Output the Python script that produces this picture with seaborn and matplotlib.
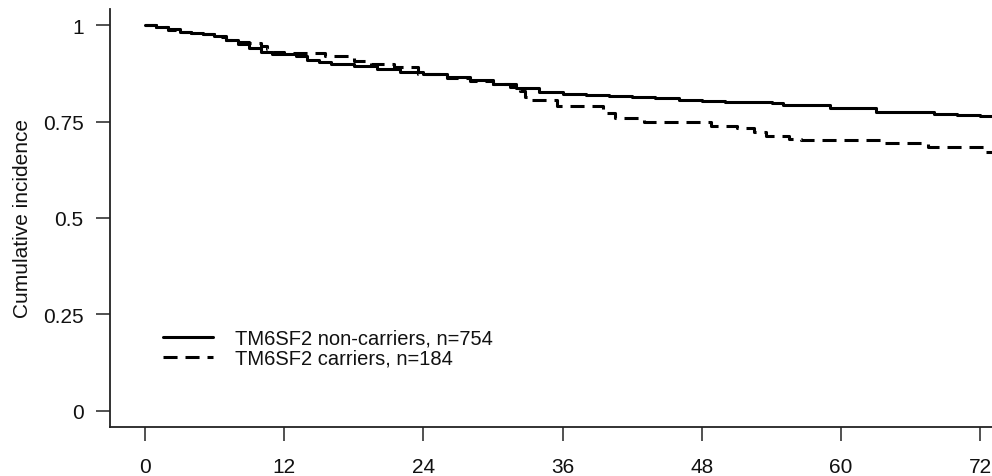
import matplotlib
matplotlib.use("Agg")
import matplotlib.pyplot as plt
import seaborn as sns
import pandas as pd

# --- data (months, cumulative probability) ---
noncarrier_time = [0, 1, 2, 3, 4, 5, 6, 7, 8, 9, 10, 11, 12, 13, 14, 15, 16, 18, 20, 22,
                   24, 26, 28, 30, 32, 34, 36, 38, 40, 42, 44, 46, 48, 50, 52, 54, 55,
                   58, 59, 62, 63, 66, 68, 70, 72, 73]
noncarrier_value = [1.0, 0.995, 0.99, 0.983, 0.979, 0.977, 0.972, 0.962, 0.952, 0.940,
                    0.930, 0.926, 0.925, 0.920, 0.910, 0.903, 0.899, 0.893, 0.886, 0.879,
                    0.873, 0.866, 0.858, 0.848, 0.836, 0.826, 0.822, 0.819, 0.816, 0.813,
                    0.810, 0.806, 0.804, 0.801, 0.800, 0.799, 0.793, 0.793, 0.785, 0.784,
                    0.775, 0.774, 0.769, 0.767, 0.764, 0.764]

carrier_time = [0, 1, 2, 3, 4, 5, 6, 7, 7.5, 9, 10, 10.5, 11, 12, 15.5, 18, 19.5, 21.5,
                23.5, 26, 28, 30, 31.5, 32.3, 32.8, 33.3, 35.5, 39.5, 40.5, 43, 48.8, 51,
                52.5, 53.5, 55.5, 56.5, 63.5, 67.5, 72.4, 73]
carrier_value = [1.0, 0.995, 0.988, 0.983, 0.979, 0.976, 0.970, 0.962, 0.956, 0.953,
                 0.946, 0.938, 0.930, 0.927, 0.919, 0.907, 0.899, 0.891, 0.874, 0.863,
                 0.855, 0.847, 0.840, 0.829, 0.813, 0.806, 0.790, 0.772, 0.759, 0.749,
                 0.738, 0.733, 0.723, 0.712, 0.705, 0.702, 0.694, 0.684, 0.671, 0.671]

group_labels = ["TM6SF2 non-carriers, n=754", "TM6SF2 carriers, n=184"]
x_ticks = [0, 12, 24, 36, 48, 60, 72]
y_ticks = [0, 0.25, 0.5, 0.75, 1]
y_ticklabels = ["0", "0.25", "0.5", "0.75", "1"]
y_label = "Cumulative incidence"

df = pd.concat([
    pd.DataFrame({"time": noncarrier_time, "value": noncarrier_value, "group": group_labels[0]}),
    pd.DataFrame({"time": carrier_time, "value": carrier_value, "group": group_labels[1]}),
], ignore_index=True)

sns.set_theme(style="white")
plt.rcParams["font.family"] = ["Liberation Sans", "DejaVu Sans"]

fig = plt.figure(figsize=(9.92, 4.77), dpi=100)
ax = fig.add_axes([110 / 992, 49 / 477, 882 / 992, 418 / 477])

sns.lineplot(data=df, x="time", y="value", hue="group", style="group",
             palette={group_labels[0]: "black", group_labels[1]: "black"},
             dashes={group_labels[0]: "", group_labels[1]: (4.6, 2.6)},
             hue_order=group_labels, style_order=group_labels,
             estimator=None, drawstyle="steps-post", linewidth=2.2,
             legend=False, ax=ax)

ax.set_xlim(-3.0, 73.0)
ax.set_ylim(-0.0415, 1.0415)
ax.set_xticks(x_ticks)
ax.set_xticklabels([str(t) for t in x_ticks])
ax.set_yticks(y_ticks)
ax.set_yticklabels(y_ticklabels)
ax.set_xlabel("")
ax.set_ylabel(y_label, fontsize=15, color="#111111", labelpad=8)

for side in ["top", "right"]:
    ax.spines[side].set_visible(False)
for side in ["left", "bottom"]:
    ax.spines[side].set_color("#222222")
    ax.spines[side].set_linewidth(1.3)

ax.tick_params(axis="x", length=10, width=1.1, color="#222222", pad=11.5,
               labelsize=15, labelcolor="#111111", bottom=True, direction="out")
ax.tick_params(axis="y", length=10, width=1.1, color="#222222", pad=9,
               labelsize=15, labelcolor="#111111", left=True, direction="out")

handles = ax.get_lines()[:2]
leg = ax.legend(handles, group_labels, loc="upper left",
                bbox_to_anchor=(0.060, 0.235), frameon=False, fontsize=14.5,
                borderaxespad=0, borderpad=0, handlelength=2.5, handletextpad=1.1,
                labelspacing=0.05)
for t in leg.get_texts():
    t.set_color("#111111")

fig.savefig("out.png", dpi=100)
